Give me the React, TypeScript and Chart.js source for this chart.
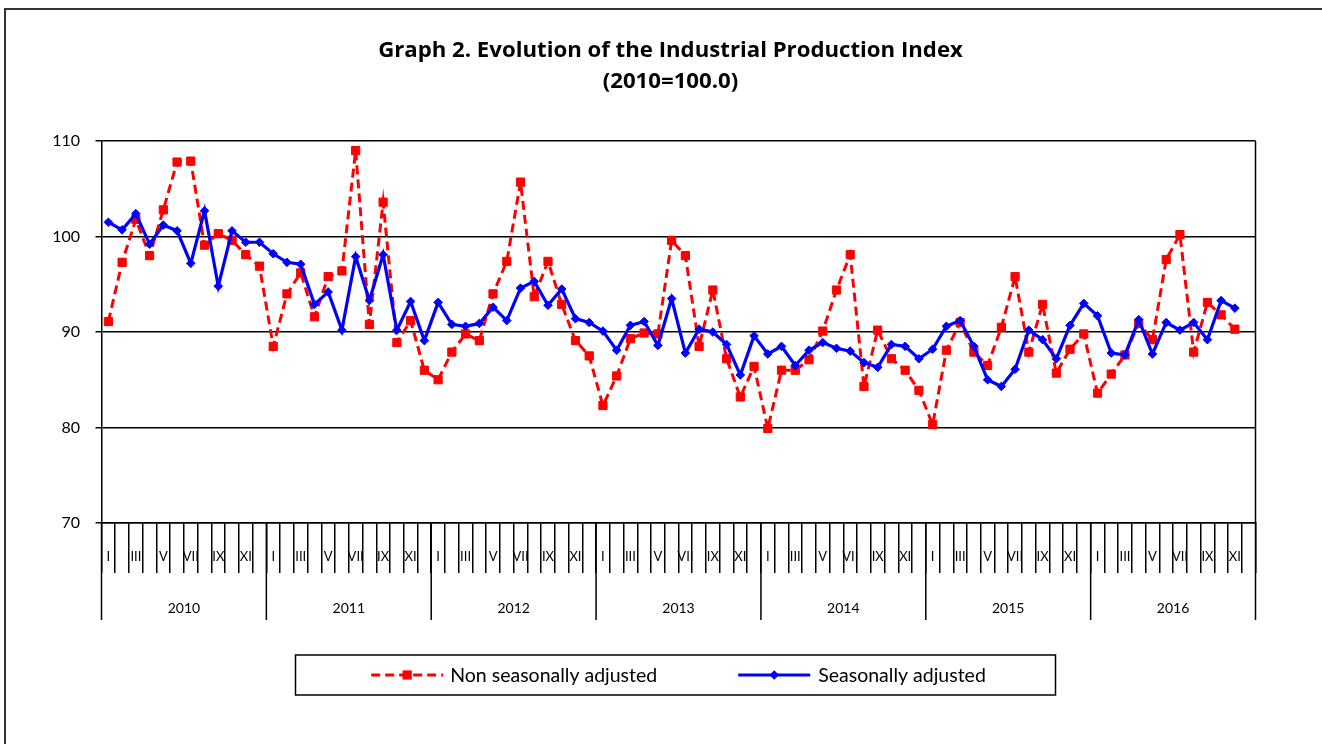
import React, { useEffect, useRef } from "react";
import { Chart, registerables } from "chart.js";

Chart.register(...registerables);

const YEARS = ["2010", "2011", "2012", "2013", "2014", "2015", "2016"];
const MONTH_TICKS = ["I", "", "III", "", "V", "", "VII", "", "IX", "", "XI", ""];
const CATEGORIES = YEARS.flatMap((y) => MONTH_TICKS.map((_, m) => `${y}-${m + 1}`));

const NON_SA = [
  91.1, 97.3, 101.8, 98.0, 102.8, 107.8, 107.9, 99.1, 100.3, 99.6, 98.1, 96.9,
  88.5, 94.0, 96.2, 91.6, 95.8, 96.4, 109.0, 90.8, 103.6, 88.9, 91.2, 86.0,
  85.0, 87.9, 89.8, 89.1, 94.0, 97.4, 105.7, 93.7, 97.4, 92.9, 89.1, 87.5,
  82.3, 85.4, 89.3, 89.9, 89.8, 99.6, 98.0, 88.5, 94.4, 87.2, 83.2, 86.4,
  79.9, 86.0, 86.0, 87.1, 90.1, 94.4, 98.1, 84.3, 90.2, 87.2, 86.0, 83.9,
  80.3, 88.1, 91.0, 87.9, 86.5, 90.5, 95.8, 87.9, 92.9, 85.7, 88.2, 89.8,
  83.6, 85.6, 87.6, 90.9, 89.2, 97.6, 100.2, 87.9, 93.1, 91.8, 90.3, null,
];

const SA = [
  101.5, 100.7, 102.4, 99.2, 101.2, 100.6, 97.2, 102.7, 94.8, 100.6, 99.4, 99.4,
  98.2, 97.3, 97.1, 92.9, 94.2, 90.2, 97.9, 93.3, 98.1, 90.2, 93.2, 89.1,
  93.1, 90.8, 90.6, 90.9, 92.6, 91.2, 94.6, 95.3, 92.8, 94.5, 91.4, 91.0,
  90.1, 88.1, 90.7, 91.1, 88.6, 93.5, 87.8, 90.3, 90.0, 88.7, 85.5, 89.6,
  87.7, 88.5, 86.5, 88.1, 88.9, 88.3, 88.0, 86.8, 86.3, 88.7, 88.5, 87.2,
  88.2, 90.6, 91.2, 88.5, 85.0, 84.3, 86.1, 90.2, 89.2, 87.2, 90.7, 93.0,
  91.7, 87.8, 87.6, 91.3, 87.7, 91.0, 90.2, 91.0, 89.2, 93.3, 92.5, null,
];

const TITLE = ["Graph 2. Evolution of the Industrial Production Index", "(2010=100.0)"];
const SERIES_NAMES = ["Non seasonally adjusted", "Seasonally adjusted"];
const FONT = "Lato";
const TITLE_FONT = "'Open Sans'";

const axisDecor = {
  id: "axisDecor",
  afterDraw(chart: any) {
    const { ctx, chartArea } = chart;
    const x = chart.scales.x;
    const slot = x.getPixelForValue(1) - x.getPixelForValue(0);
    const left = x.getPixelForValue(0) - slot / 2;
    ctx.save();
    ctx.strokeStyle = "#000";
    ctx.lineWidth = 1.5;
    for (let k = 0; k <= YEARS.length; k++) {
      const px = left + k * 12 * slot;
      ctx.beginPath();
      ctx.moveTo(px, k === YEARS.length ? chartArea.top : chartArea.bottom);
      ctx.lineTo(px, chartArea.bottom + 97);
      ctx.stroke();
    }
    ctx.fillStyle = "#000";
    ctx.font = `14px ${FONT}`;
    ctx.textAlign = "center";
    ctx.textBaseline = "middle";
    YEARS.forEach((y, k) => {
      ctx.fillText(y, left + (k * 12 + 6) * slot, chartArea.bottom + 85);
    });
    ctx.restore();
  },
};

const boxLegend = {
  id: "boxLegend",
  afterDraw(chart: any) {
    const { ctx, chartArea } = chart;
    const cx = (chartArea.left + chartArea.right) / 2 - 3;
    const boxW = 760;
    const boxTop = chartArea.bottom + 132;
    const boxH = 40;
    ctx.save();
    ctx.strokeStyle = "#000";
    ctx.lineWidth = 1.5;
    ctx.strokeRect(cx - boxW / 2, boxTop, boxW, boxH);
    ctx.font = `19.5px ${FONT}`;
    const ds = chart.data.datasets;
    const sample = 72;
    const w0 = ctx.measureText(ds[0].label).width;
    const w1 = ctx.measureText(ds[1].label).width;
    const total = sample + 7 + w0 + 81 + sample + 8 + w1;
    let xx = cx - total / 2 + 3;
    const yy = boxTop + boxH / 2;
    const drawItem = (d: any, textW: number, gap: number) => {
      ctx.strokeStyle = d.borderColor;
      ctx.lineWidth = d.borderWidth;
      ctx.setLineDash(d.borderDash || []);
      ctx.beginPath();
      ctx.moveTo(xx, yy);
      ctx.lineTo(xx + sample, yy);
      ctx.stroke();
      ctx.setLineDash([]);
      ctx.fillStyle = d.pointBackgroundColor;
      const mx = xx + sample / 2;
      if (d.pointStyle === "rect") {
        const s = d.pointRadius * Math.SQRT1_2 + 0.5;
        ctx.fillRect(mx - s, yy - s, 2 * s, 2 * s);
      } else {
        const r = d.pointRadius + 0.5;
        ctx.beginPath();
        ctx.moveTo(mx, yy - r);
        ctx.lineTo(mx + r, yy);
        ctx.lineTo(mx, yy + r);
        ctx.lineTo(mx - r, yy);
        ctx.closePath();
        ctx.fill();
      }
      ctx.fillStyle = "#000";
      ctx.textAlign = "left";
      ctx.textBaseline = "middle";
      ctx.fillText(d.label, xx + sample + gap, yy + 1);
      xx += sample + gap + textW;
    };
    drawItem(ds[0], w0, 7);
    xx += 81;
    drawItem(ds[1], w1, 8);
    ctx.restore();
  },
};

export default function App() {
  const ref = useRef<HTMLCanvasElement | null>(null);
  useEffect(() => {
    if (!ref.current) return;
    const chart = new Chart(ref.current, {
      type: "line",
      data: {
        labels: CATEGORIES,
        datasets: [
          {
            label: SERIES_NAMES[0],
            data: NON_SA,
            borderColor: "#FF0000",
            backgroundColor: "#FF0000",
            pointBackgroundColor: "#FF0000",
            pointBorderColor: "#FF0000",
            borderWidth: 3,
            borderDash: [9, 5],
            pointStyle: "rect",
            pointRadius: 5.8,
            pointBorderWidth: 1,
            tension: 0,
            order: 2,
          },
          {
            label: SERIES_NAMES[1],
            data: SA,
            borderColor: "#0000FF",
            backgroundColor: "#0000FF",
            pointBackgroundColor: "#0000FF",
            pointBorderColor: "#0000FF",
            borderWidth: 3.2,
            pointStyle: "rectRot",
            pointRadius: 4.3,
            pointBorderWidth: 1,
            tension: 0,
            order: 1,
          },
        ],
      },
      options: {
        responsive: false,
        animation: false,
        devicePixelRatio: 1,
        layout: { padding: { left: 19, right: 0, top: 0, bottom: 121 } },
        plugins: {
          legend: { display: false },
          tooltip: { enabled: false },
          title: {
            display: true,
            text: TITLE,
            color: "#000",
            font: { family: TITLE_FONT, size: 22.2, weight: "bold", lineHeight: 1.4 },
            padding: { top: 35.5, bottom: 43.4 },
          },
        },
        scales: {
          x: {
            type: "category",
            offset: true,
            afterFit: (s: any) => {
              s.height = 100;
            },
            grid: {
              display: true,
              drawOnChartArea: false,
              drawTicks: true,
              tickLength: 50,
              offset: true,
              color: "#000",
              lineWidth: 1.5,
            },
            border: { display: true, color: "#000", width: 1.5 },
            ticks: {
              autoSkip: false,
              maxRotation: 0,
              minRotation: 0,
              padding: -24,
              color: "#000",
              font: { family: FONT, size: 13 },
              callback: (_v: any, i: number) => MONTH_TICKS[i % 12],
            },
          },
          y: {
            min: 70,
            max: 110,
            afterFit: (s: any) => {
              s.width = 82.5;
            },
            grid: { color: "#000", lineWidth: 1.5, tickLength: 6, drawTicks: true },
            border: { display: true, color: "#000", width: 1.5 },
            ticks: {
              stepSize: 10,
              padding: 15.5,
              color: "#000",
              font: { family: FONT, size: 16 },
            },
          },
          yRight: {
            position: "right",
            display: true,
            afterFit: (s: any) => {
              s.width = 66.5;
            },
            grid: { display: false, drawOnChartArea: false },
            border: { display: false },
            ticks: { display: false },
          },
        },
      },
      plugins: [axisDecor, boxLegend],
    });
    return () => chart.destroy();
  }, []);

  return (
    <div style={{ position: "fixed", left: 0, top: 0, width: 1322, height: 744, overflow: "hidden", background: "#fff" }}>
      <div
        style={{
          position: "absolute",
          left: 4,
          top: 8,
          width: 1400,
          height: 800,
          border: "2px solid #333",
          boxSizing: "border-box",
        }}
      />
      <canvas ref={ref} width={1322} height={744} style={{ position: "absolute", left: 0, top: 0 }} />
    </div>
  );
}
